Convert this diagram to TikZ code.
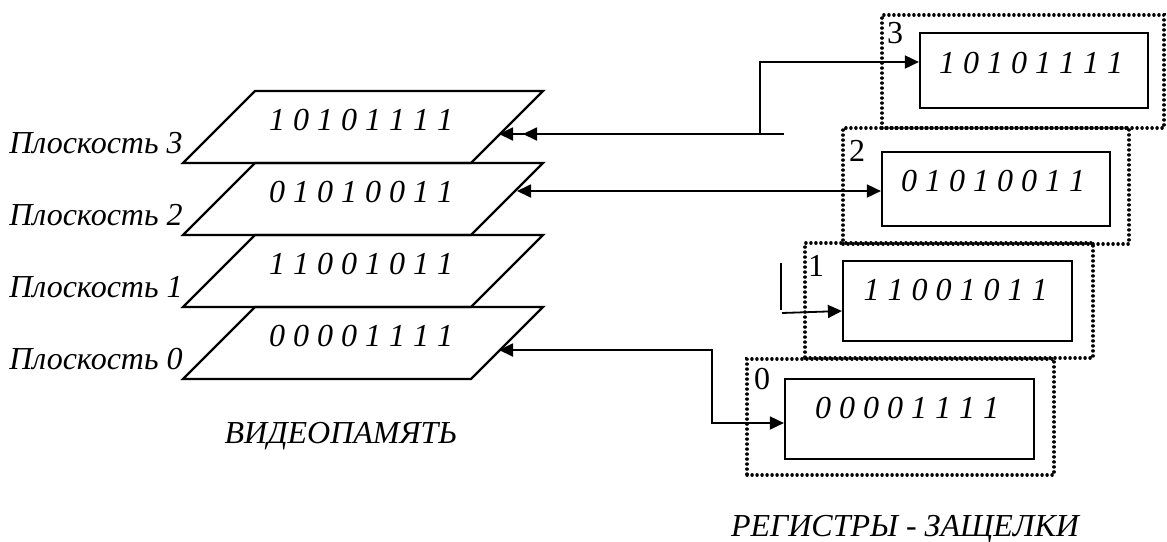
\documentclass[tikz,border=0pt]{standalone}
\usepackage{fontspec}
\setmainfont{Liberation Serif}
\usetikzlibrary{arrows.meta,fit}

\begin{document}
\begin{tikzpicture}[x=0.5pt,y=-0.5pt,
  plane/.style={line width=1.1pt, line join=miter},
  bits/.style={font=\fontsize{16}{19}\selectfont\itshape, inner sep=0pt},
  planelabel/.style={font=\fontsize{16}{19}\selectfont\itshape, inner sep=0pt},
  caption/.style={font=\fontsize{16}{19}\selectfont\itshape, inner sep=0pt, anchor=base},
  regnum/.style={font=\fontsize{16}{19}\selectfont, inner sep=0pt},
  regbox/.style={draw, line width=1.1pt, inner sep=0pt},
  latchframe/.style={draw, inner sep=0pt, line width=1.7pt, line cap=round,
    dash pattern=on 0.05pt off 2.45pt},
  conn/.style={line width=0.9pt},
  tip/.tip={Triangle[length=7pt, width=6.5pt]}
]
\useasboundingbox (0,0) rectangle (1167,541);

% video memory: four bit planes
\foreach \k/\yb/\bits in {3/163/{1 0 1 0 1 1 1 1}, 2/235/{0 1 0 1 0 0 1 1},
                          1/307/{1 1 0 0 1 0 1 1}, 0/379/{0 0 0 0 1 1 1 1}} {
  \draw[plane] (183,\yb) -- (471,\yb) -- (543,\yb-72) -- (255,\yb-72) -- cycle;
  \node[bits] (bits\k) at (361,\yb-43) {\bits};
  \node[planelabel, anchor=base east] (lab\k) at (183,\yb-10) {Плоскость \k};
}
\node[caption] (vmem) at (341,443) {ВИДЕОПАМЯТЬ};

% latch registers
\node[latchframe, fit={(882,15) (1164,128)}] (fr3) {};
\node[latchframe, fit={(843,128) (1129,244)}] (fr2) {};
\node[latchframe, fit={(805,243) (1093,358)}] (fr1) {};
\node[latchframe, fit={(747,359) (1054,475)}] (fr0) {};

\node[regbox, fit={(920,33) (1148,108)}] (reg3) {};
\node[regbox, fit={(882,152) (1110,226)}] (reg2) {};
\node[regbox, fit={(843,261) (1072,341)}] (reg1) {};
\node[regbox, fit={(785,379) (1034,459)}] (reg0) {};

\node[bits] (rbits3) at (1031,63.5) {1 0 1 0 1 1 1 1};
\node[bits] (rbits2) at (993,181.5) {0 1 0 1 0 0 1 1};
\node[bits] (rbits1) at (955.5,290) {1 1 0 0 1 0 1 1};
\node[bits] (rbits0) at (907,408) {0 0 0 0 1 1 1 1};

\node[regnum] (num3) at (895,33) {3};
\node[regnum] (num2) at (857,151) {2};
\node[regnum] (num1) at (816,266) {1};
\node[regnum] (num0) at (762,379) {0};

\node[caption] (latches) at (905,536) {РЕГИСТРЫ - ЗАЩЕЛКИ};

% data paths
\coordinate (in3) at (499,134);
\coordinate (in2) at (517,191);
\coordinate (in0) at (499,350);
\coordinate (j3) at (760,134);
\coordinate (stub3) at (784,134);
\coordinate (bend0) at (712,423);
\coordinate (l1top) at (781,263);
\coordinate (l1bot) at (781,310);
\coordinate (l1from) at (782,313);

\draw[conn, {tip[] tip[sep=5pt]}-] (in3) -- (stub3);
\draw[conn, -tip] (j3) |- ([yshift=4.25pt]reg3.west);
\draw[conn, tip-tip] (in2) -- (in2 -| reg2.west);
\draw[conn, tip-tip] (in0) -| (bend0) -- (bend0 -| reg0.west);
\draw[conn] (l1top) -- (l1bot);
\draw[conn, -tip] (l1from) -- ([yshift=-5pt]reg1.west);
\end{tikzpicture}
\end{document}
